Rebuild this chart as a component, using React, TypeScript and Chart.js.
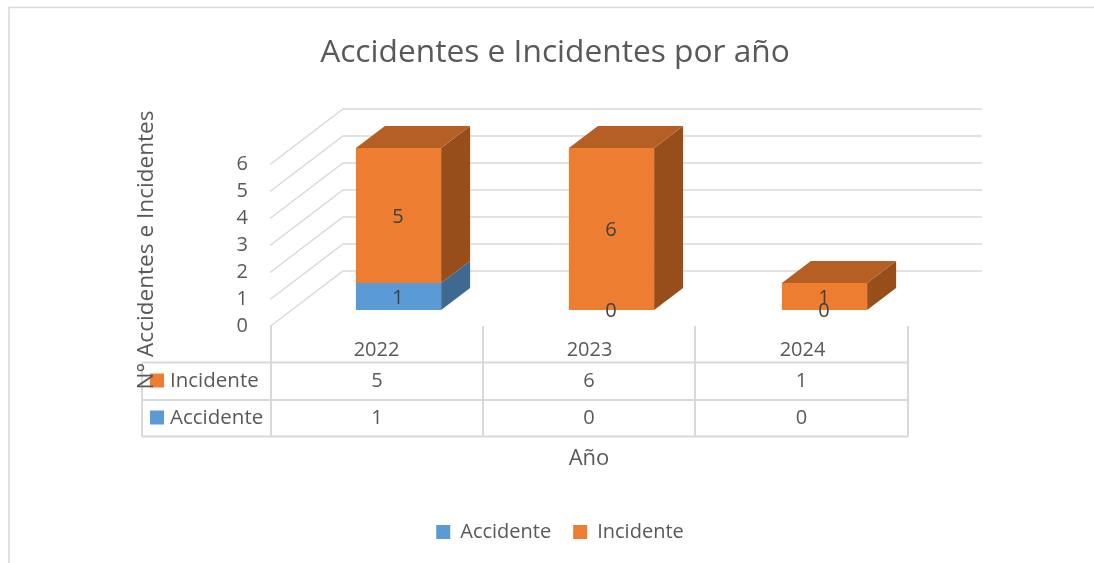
import React, { useEffect, useRef } from "react";
import { Chart, registerables } from "chart.js";

Chart.register(...registerables);

const years = ["2022", "2023", "2024"];
const accidente = [1, 0, 0];
const incidente = [5, 6, 1];
const chartTitle = "Accidentes e Incidentes por año";
const yTitle = "N° Accidentes e Incidentes";
const xTitle = "Año";
const yMax = 6;

const FONT = "'Open Sans'";
const TEXT = "#595959";
const LABEL = "#404040";
const GRID = "#d9d9d9";
const BLUE = "#5B9BD5";
const ORANGE = "#ED7D31";
const shades: Record<string, { side: string; top: string }> = {
  [BLUE]: { side: "#3E6A91", top: "#4A7DAB" },
  [ORANGE]: { side: "#974E1B", top: "#B55F25" },
};

const plugin3d = {
  id: "plugin3d",
  afterLayout(chart: any) {
    chart.titleBlock.left = 255;
    chart.titleBlock.right = 855;
    chart.legend.left = 260;
    chart.legend.right = 860;
    const h = chart.legend.height;
    chart.legend.top = 526 - h / 2;
    chart.legend.bottom = 526 + h / 2;
  },
  beforeDatasetsDraw(chart: any) {
    const { ctx, scales } = chart;
    const y = scales.y;
    ctx.save();
    // frame
    ctx.strokeStyle = GRID;
    ctx.lineWidth = 1.5;
    ctx.beginPath();
    ctx.moveTo(9, 563);
    ctx.lineTo(9, 7.5);
    ctx.lineTo(1094, 7.5);
    ctx.stroke();
    // walls
    for (let v = 0; v <= yMax; v++) {
      const py = y.getPixelForValue(v);
      ctx.beginPath();
      ctx.moveTo(270, py + 16.5);
      ctx.lineTo(343, py - 39);
      ctx.lineTo(982, py - 39);
      ctx.stroke();
    }
    // table
    ctx.lineWidth = 2;
    const cols = [271, 483, 695, 908];
    const rows = [362.5, 400, 436.5];
    ctx.beginPath();
    for (const r of rows) {
      ctx.moveTo(142, r);
      ctx.lineTo(908, r);
    }
    ctx.moveTo(142, rows[0]);
    ctx.lineTo(142, rows[2]);
    for (const c of cols) {
      ctx.moveTo(c, 326);
      ctx.lineTo(c, rows[2]);
    }
    ctx.stroke();
    const tableRows = [chart.data.datasets[1], chart.data.datasets[0]];
    ctx.textBaseline = "middle";
    tableRows.forEach((ds: any, i: number) => {
      const cy = i === 0 ? 381.5 : 418.5;
      ctx.fillStyle = ds.backgroundColor;
      ctx.fillRect(150, cy - 8, 14, 14);
      ctx.fillStyle = TEXT;
      ctx.textAlign = "left";
      ctx.font = `20.5px ${FONT}`;
      ctx.fillText(ds.label, 170, cy);
      ctx.font = `20px ${FONT}`;
      ctx.textAlign = "center";
      ds.data.forEach((val: number, j: number) => {
        ctx.fillText(String(val), (cols[j] + cols[j + 1]) / 2, cy);
      });
    });
    // axis titles
    ctx.textAlign = "center";
    ctx.font = `22px ${FONT}`;
    ctx.fillText(xTitle, 589, 459);
    ctx.save();
    ctx.translate(147, 250);
    ctx.rotate(-Math.PI / 2);
    ctx.font = `22.6px ${FONT}`;
    ctx.fillText(yTitle, 0, 0);
    ctx.restore();
    // bar extrusions
    const dx = 29;
    const dy = -22;
    const face = (pts: number[][], color: string) => {
      ctx.fillStyle = color;
      ctx.beginPath();
      pts.forEach((p, i) => (i ? ctx.lineTo(p[0], p[1]) : ctx.moveTo(p[0], p[1])));
      ctx.closePath();
      ctx.fill();
    };
    chart.data.datasets.forEach((ds: any, d: number) => {
      chart.getDatasetMeta(d).data.forEach((bar: any, i: number) => {
        if (!ds.data[i]) return;
        const r = bar.x + bar.width / 2;
        const l = bar.x - bar.width / 2;
        const s = shades[ds.backgroundColor];
        face([[r, bar.base], [r + dx, bar.base + dy], [r + dx, bar.y + dy], [r, bar.y]], s.side);
        const isTop = chart.data.datasets.slice(d + 1).every((o: any) => !o.data[i]);
        if (isTop) face([[l, bar.y], [l + dx, bar.y + dy], [r + dx, bar.y + dy], [r, bar.y]], s.top);
      });
    });
    ctx.restore();
  },
  afterDatasetsDraw(chart: any) {
    const { ctx } = chart;
    ctx.save();
    ctx.font = `20px ${FONT}`;
    ctx.fillStyle = LABEL;
    ctx.textAlign = "center";
    ctx.textBaseline = "middle";
    chart.data.datasets.forEach((ds: any, d: number) => {
      chart.getDatasetMeta(d).data.forEach((bar: any, i: number) => {
        ctx.fillText(String(ds.data[i]), bar.x - 0.5, (bar.y + bar.base) / 2 + 1.5);
      });
    });
    ctx.restore();
  },
};

export default function App() {
  const ref = useRef<HTMLCanvasElement>(null);
  useEffect(() => {
    const chart = new Chart(ref.current!, {
      type: "bar",
      plugins: [plugin3d],
      data: {
        labels: years,
        datasets: [
          { label: "Accidente", data: accidente, backgroundColor: BLUE },
          { label: "Incidente", data: incidente, backgroundColor: ORANGE },
        ],
      },
      options: {
        responsive: false,
        animation: false,
        layout: { padding: { left: 0, right: 163, top: 0, bottom: 0 } },
        datasets: { bar: { categoryPercentage: 1, barPercentage: 0.4 } },
        plugins: {
          tooltip: { enabled: false },
          title: {
            display: true,
            text: chartTitle,
            color: TEXT,
            font: { family: FONT, size: 31.7, weight: "normal" },
            padding: { top: 33.5, bottom: 76.46 },
          },
          legend: {
            position: "bottom",
            labels: {
              color: TEXT,
              boxWidth: 14,
              boxHeight: 14,
              padding: 22,
              font: { family: FONT, size: 20 },
            },
          },
        },
        scales: {
          x: {
            stacked: true,
            grid: { display: false, drawTicks: false },
            border: { display: false },
            ticks: {
              color: TEXT,
              font: { family: FONT, size: 20 },
              padding: 28,
              labelOffset: -22,
              maxRotation: 0,
              autoSkip: false,
            },
            afterFit: (s: any) => {
              s.height = 563 - 310 - (s.chart.legend?.height ?? 0);
            },
          },
          y: {
            stacked: true,
            min: 0,
            max: yMax,
            grid: { display: false, drawTicks: false },
            border: { display: false },
            ticks: {
              stepSize: 1,
              color: TEXT,
              font: { family: FONT, size: 20 },
              padding: 44,
              labelOffset: 16,
            },
            afterFit: (s: any) => {
              s.width = 292;
            },
          },
        },
      },
    } as any);
    return () => chart.destroy();
  }, []);
  return (
    <canvas
      ref={ref}
      width={1094}
      height={563}
      style={{ position: "absolute", left: 0, top: 0, width: 1094, height: 563, background: "#fff" }}
    />
  );
}
